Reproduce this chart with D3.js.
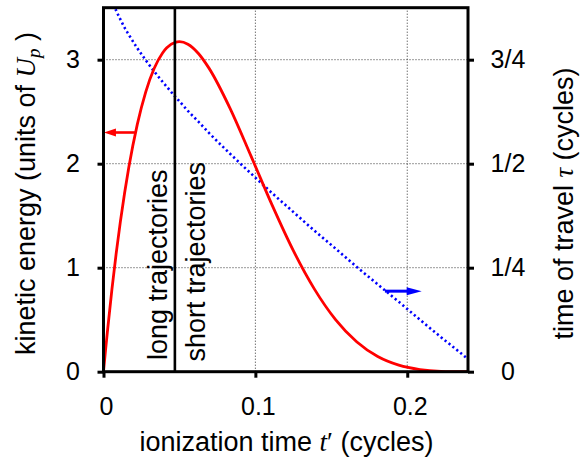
<!DOCTYPE html>
<html>
<head>
<meta charset="utf-8">
<script src="https://cdn.jsdelivr.net/npm/d3@7"></script>
<style>
  body { margin: 0; background: #fff; }
  svg { display: block; }
  text { font-family: "Liberation Sans", Arial, Helvetica, sans-serif; fill: #000; }
  .math { font-family: "Liberation Serif", "Times New Roman", serif; font-style: italic; }
</style>
</head>
<body>
<svg id="chart" width="587" height="461"></svg>
<script>
// Classical return of an electron ionized at time t' (in laser cycles)
const ionTime = [0, 0.00139, 0.00278, 0.00556, 0.00833, 0.01111, 0.01389, 0.01667, 0.02222,
  0.02778, 0.03333, 0.03889, 0.04167, 0.04722, 0.05, 0.05556, 0.0625, 0.06944, 0.08333,
  0.09722, 0.11111, 0.125, 0.13889, 0.15278, 0.16667, 0.18056, 0.19444, 0.20833, 0.22222,
  0.23611, 0.24];
// kinetic energy on return, units of Up
const kineticEnergy = [0, 0.215, 0.413, 0.794, 1.135, 1.443, 1.718, 1.965, 2.376,
  2.689, 2.915, 3.065, 3.114, 3.167, 3.173, 3.149, 3.060, 2.919, 2.532,
  2.070, 1.599, 1.164, 0.794, 0.501, 0.288, 0.146, 0.063, 0.021, 0.004,
  0.0003, 0.0001];
// time of travel until return, cycles
const travelTime = [1.0, 0.955, 0.925, 0.893, 0.868, 0.847, 0.827, 0.810, 0.778,
  0.749, 0.722, 0.697, 0.685, 0.661, 0.650, 0.627, 0.601, 0.574, 0.524,
  0.476, 0.429, 0.384, 0.339, 0.296, 0.252, 0.210, 0.168, 0.125, 0.083,
  0.042, 0.030];

const xTicks = [0, 0.1, 0.2];
const xTickLabels = ["0", "0.1", "0.2"];
const energyTicks = [0, 1, 2, 3];
const travelTicks = [0, 0.25, 0.5, 0.75];
const travelTickLabels = ["0", "1/4", "1/2", "3/4"];
const cutoffTime = 0.047;          // boundary between long and short trajectories
const energyArrow = { from: 0.0207, to: 0.0003, level: 2.3 };
const travelArrow = { from: 0.1853, to: 0.2095, level: 0.1936 };

const svg = d3.select("#chart");
const x = d3.scaleLinear().domain([0, 0.24]).range([103.5, 468]);
const yE = d3.scaleLinear().domain([0, 3.5]).range([371.7, 7.7]);
const yT = d3.scaleLinear().domain([0, 0.875]).range([371.7, 7.7]);

const [x0, x1] = x.range();
const [yb, yt] = yE.range();

svg.append("defs").append("clipPath").attr("id", "plot-clip")
  .append("rect").attr("x", x0).attr("y", yt).attr("width", x1 - x0).attr("height", yb - yt);

// dotted grid
const grid = svg.append("g").attr("stroke", "#333").attr("stroke-width", 1)
  .attr("stroke-dasharray", "1,2");
grid.selectAll("line.v").data(xTicks.filter(d => d > 0)).join("line")
  .attr("x1", d => x(d)).attr("x2", d => x(d)).attr("y1", yb).attr("y2", yt);
grid.selectAll("line.h").data(energyTicks.filter(d => d > 0)).join("line")
  .attr("x1", x0).attr("x2", x1).attr("y1", d => yE(d)).attr("y2", d => yE(d));

// curves
const plot = svg.append("g").attr("clip-path", "url(#plot-clip)");
const idx = d3.range(ionTime.length);
plot.append("path")
  .attr("d", d3.line().x(i => x(ionTime[i])).y(i => yT(travelTime[i])).curve(d3.curveMonotoneX)(idx))
  .attr("fill", "none").attr("stroke", "#0000ff").attr("stroke-width", 2.6)
  .attr("stroke-dasharray", "2.2,2.8");
plot.append("path")
  .attr("d", d3.line().x(i => x(ionTime[i])).y(i => yE(kineticEnergy[i])).curve(d3.curveMonotoneX)(idx))
  .attr("fill", "none").attr("stroke", "#ff0000").attr("stroke-width", 2.8)
  .attr("stroke-linejoin", "round");

// separator between long and short trajectories
svg.append("line").attr("x1", x(cutoffTime)).attr("x2", x(cutoffTime))
  .attr("y1", yb).attr("y2", yt).attr("stroke", "#000").attr("stroke-width", 2.6);

// arrows pointing to the matching axis
function arrow(x1a, x2a, yy, color, headLen, headHalf, width) {
  const dir = Math.sign(x2a - x1a);
  svg.append("line").attr("x1", x1a).attr("x2", x2a - dir * headLen * 0.8)
    .attr("y1", yy).attr("y2", yy).attr("stroke", color).attr("stroke-width", width);
  svg.append("path")
    .attr("d", `M${x2a},${yy} L${x2a - dir * headLen},${yy - headHalf} L${x2a - dir * headLen},${yy + headHalf} Z`)
    .attr("fill", color);
}
arrow(x(energyArrow.from), x(energyArrow.to), yE(energyArrow.level), "#ff0000", 12, 4, 2.6);
arrow(x(travelArrow.from), x(travelArrow.to), yT(travelArrow.level), "#0000ff", 15, 4, 3);

// axes
const tickFont = "25px";
const gL = svg.append("g").attr("transform", `translate(${x0},0)`)
  .call(d3.axisLeft(yE).tickValues(energyTicks).tickFormat(d3.format("d")).tickSize(6).tickPadding(17.5));
const gB = svg.append("g").attr("transform", `translate(0,${yb})`)
  .call(d3.axisBottom(x).tickValues(xTicks).tickFormat((d, i) => xTickLabels[i]).tickSize(6).tickPadding(19.5));
const gR = svg.append("g").attr("transform", `translate(${x1},0)`)
  .call(d3.axisRight(yT).tickValues(travelTicks).tickFormat((d, i) => travelTickLabels[i]).tickSize(6).tickPadding(34));
[gL, gB, gR].forEach(g => {
  g.select(".domain").remove();
  g.selectAll(".tick line").attr("stroke", "#000").attr("stroke-width", 3);
  g.selectAll(".tick text").style("font-size", tickFont)
    .style("font-family", "'Liberation Sans', Arial, sans-serif").attr("fill", "#000");
});
gB.selectAll(".tick text").attr("dx", 2.5);
gR.selectAll(".tick text").attr("text-anchor", "middle");

// frame
svg.append("rect").attr("x", x0).attr("y", yt).attr("width", x1 - x0).attr("height", yb - yt)
  .attr("fill", "none").attr("stroke", "#000").attr("stroke-width", 3);

// axis titles
const labelSize = "27px";
const xl = svg.append("text").attr("x", 286.5).attr("y", 451).attr("text-anchor", "middle")
  .style("font-size", labelSize);
xl.append("tspan").text("ionization time ");
xl.append("tspan").attr("class", "math").text("t");
xl.append("tspan").attr("class", "math").style("font-style", "normal").text("\u2032");
xl.append("tspan").text(" (cycles)");

const yl = svg.append("text").attr("transform", "translate(35,193.5) rotate(-90)")
  .attr("text-anchor", "middle").style("font-size", labelSize);
yl.append("tspan").text("kinetic energy (units of ");
yl.append("tspan").attr("class", "math").text("U");
yl.append("tspan").attr("class", "math").attr("dy", 5).style("font-size", "19px").text("p");
yl.append("tspan").attr("dy", -5).text(" )");

const yr = svg.append("text").attr("transform", "translate(573,203.5) rotate(-90)")
  .attr("text-anchor", "middle").style("font-size", labelSize);
yr.append("tspan").text("time of travel ");
yr.append("tspan").attr("class", "math").text("\u03C4");
yr.append("tspan").text(" (cycles)");

// trajectory labels along the separator
svg.append("text").attr("transform", `translate(${x(cutoffTime) - 7.5},360) rotate(-90)`)
  .style("font-size", labelSize).text("long trajectories");
svg.append("text").attr("transform", `translate(${x(cutoffTime) + 30},361.5) rotate(-90)`)
  .style("font-size", labelSize).text("short trajectories");
</script>
</body>
</html>
